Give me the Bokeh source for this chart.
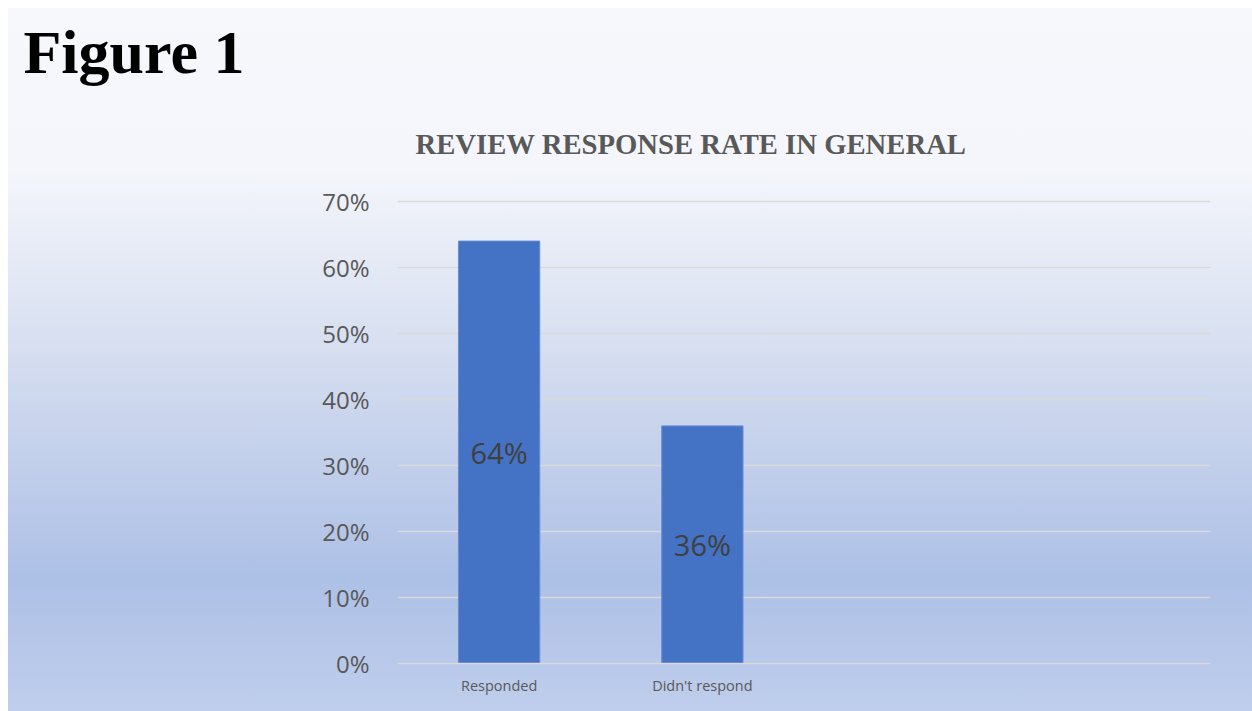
from bokeh.plotting import figure
from bokeh.models import FactorRange, Range1d, FixedTicker, NumeralTickFormatter, ColumnDataSource, Title
from bokeh.core.properties import value
from bokeh.embed import file_html
from bokeh.resources import INLINE

# ---- data ----
categories = ["Responded", "Didn't respond"]
empty_slots = [" ", "  "]
values = [0.64, 0.36]
y_ticks = [0.0, 0.1, 0.2, 0.3, 0.4, 0.5, 0.6, 0.7]
chart_title = "REVIEW RESPONSE RATE IN GENERAL"
figure_label = "Figure 1"

factors = categories + empty_slots
W, H = 1252, 711

p = figure(
    width=W, height=H,
    x_range=FactorRange(*factors, range_padding=0),
    y_range=Range1d(0, 0.703),
    output_backend="svg", toolbar_location=None,
    min_border_left=397, min_border_right=42, min_border_top=199, min_border_bottom=48,
)
p.title = None
p.border_fill_color = None
p.background_fill_color = None
p.outline_line_color = None
p.styles = {"background": (
    "linear-gradient(to right, #FFFFFF 0px, #FFFFFF 8px, rgba(255,255,255,0) 8px), "
    "linear-gradient(to bottom, #FFFFFF 0px, #FFFFFF 8px, #F6F8FC 8px, #F4F6FB 168px, "
    "#D6DEF0 350px, #ADC0E6 578px, #BFCEEC 711px)")}

# above panels stack outward from the frame: chart title, then figure label
p.add_layout(Title(text=chart_title, align="left", offset=18, standoff=80,
                   text_font="Liberation Serif", text_font_style="bold", text_font_size="28.7px",
                   text_color="#595959"), "above")
p.add_layout(Title(text=figure_label, align="left", offset=-374, standoff=0,
                   text_font="Liberation Serif", text_font_style="bold", text_font_size="62px",
                   text_color="#000000"), "above")

src = ColumnDataSource(dict(
    x=categories,
    top=values,
    mid=[v / 2 for v in values],
    lbl=["%d%%" % round(v * 100) for v in values],
))

p.vbar(x="x", top="top", width=0.4, source=src, fill_color="#4472C4", line_color="#6A8DD2", line_width=1)
p.text(x="x", y="mid", text="lbl", source=src, text_align="center", text_baseline="middle",
       text_font=value("Open Sans"), text_font_size="29px", text_color="#404040")

# y axis
p.yaxis.ticker = FixedTicker(ticks=y_ticks)
p.yaxis.formatter = NumeralTickFormatter(format="0%")
p.yaxis.axis_line_color = None
p.yaxis.major_tick_line_color = None
p.yaxis.minor_tick_line_color = None
p.yaxis.major_label_standoff = 22
p.yaxis.major_label_text_font = "Open Sans"
p.yaxis.major_label_text_font_size = "24px"
p.yaxis.major_label_text_color = "#595959"

# x axis
p.xaxis.axis_line_color = "#D9D9D9"
p.xaxis.axis_line_width = 1.5
p.xaxis.major_tick_line_color = None
p.xaxis.minor_tick_line_color = None
p.xaxis.major_label_standoff = 6
p.xaxis.major_label_text_font = "Open Sans"
p.xaxis.major_label_text_font_size = "14.5px"
p.xaxis.major_label_text_color = "#595959"

p.xgrid.grid_line_color = None
p.ygrid.grid_line_color = "#D9D9D9"
p.ygrid.grid_line_width = 1.5

open("out.html", "w").write(file_html(p, INLINE))
